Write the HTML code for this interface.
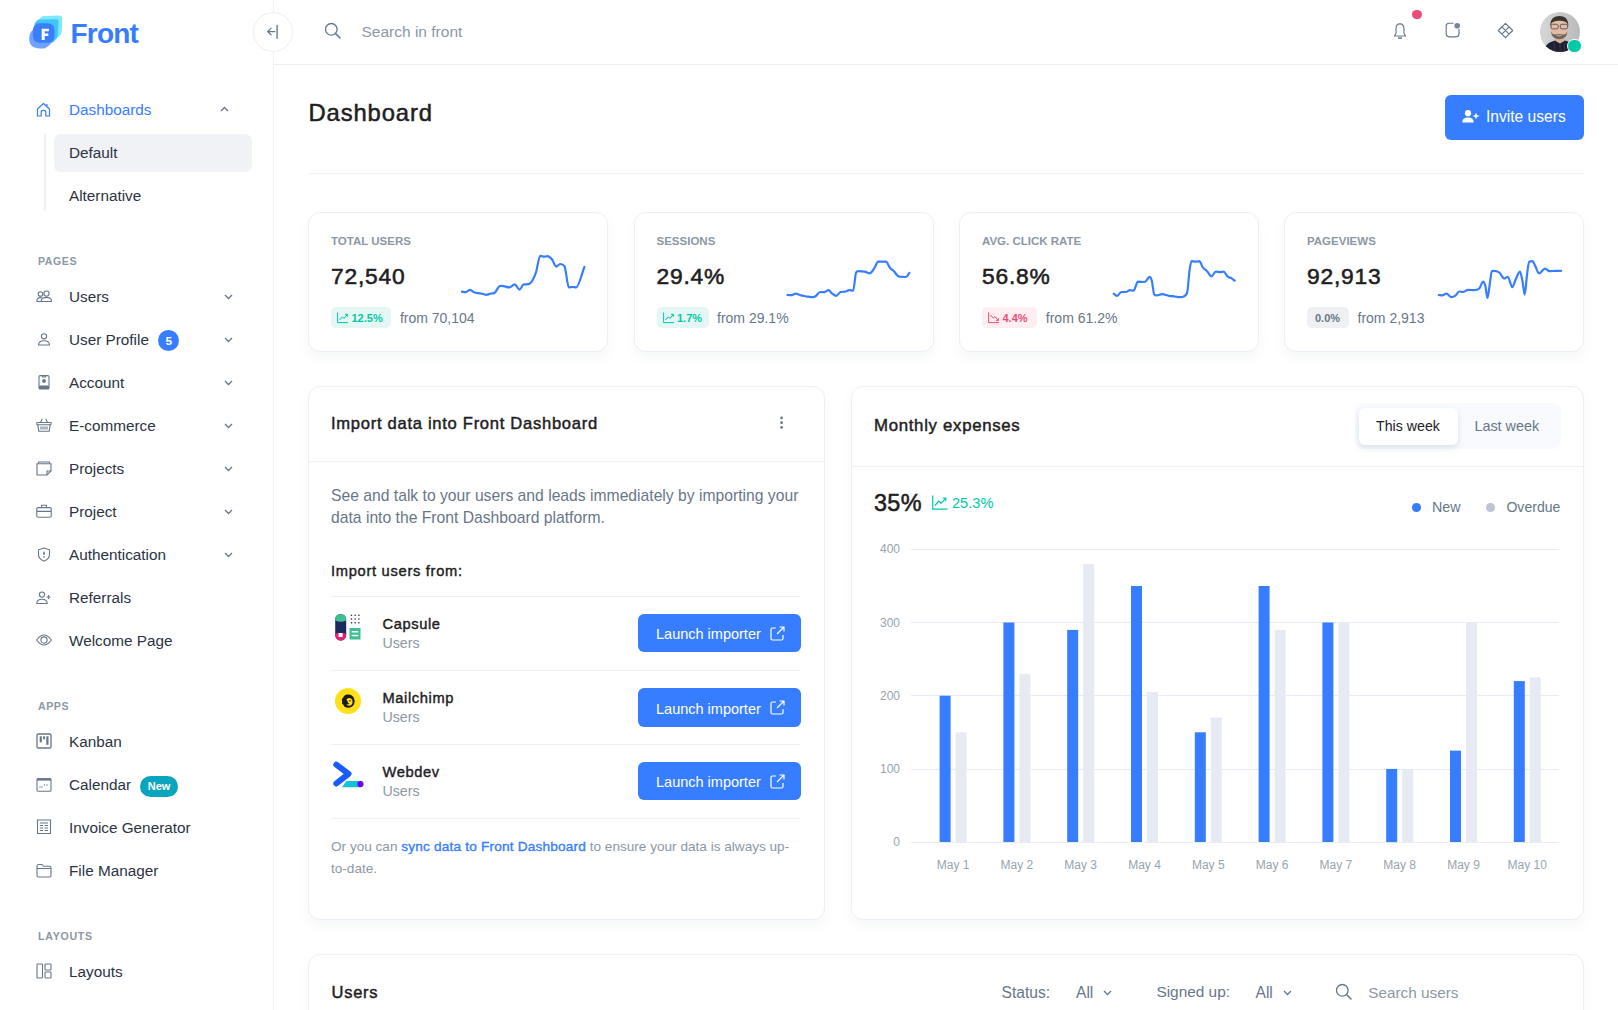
<!DOCTYPE html>
<html><head><meta charset="utf-8">
<style>
*{box-sizing:border-box;margin:0;padding:0}
html,body{width:1618px;height:1010px;overflow:hidden;background:#fff;font-family:"Liberation Sans",sans-serif;color:#1e2022}
.a{position:absolute}
.t{position:absolute;white-space:nowrap;line-height:1}
.nav{font-size:15.3px;color:#2c3344}
.ic{position:absolute;overflow:visible}
.card{position:absolute;background:#fff;border:1px solid #edeff7;border-radius:12px;box-shadow:0 6px 12px rgba(140,152,164,.075)}
.lbl{font-size:10.6px;font-weight:bold;color:#8c98a4;letter-spacing:.55px}
.chev{position:absolute;width:9px;height:6px}
.btn{position:absolute;background:#377dff;border-radius:5px}
</style></head><body>

<!-- SIDEBAR -->
<div class="a" style="left:273px;top:0;width:1px;height:1010px;background:#eef0f6"></div>
<svg class="ic" style="left:28px;top:14px" width="36" height="36" viewBox="0 0 36 36">
  <path d="M9 8 L13 3.2 Q14 2 16 2 L31 1.6 Q34.2 1.6 34.2 5 L33.8 17.5 Q33.5 21.5 26.5 26.3 L12 26 Z" fill="#80e8fb"/>
  <path d="M6.5 10.5 Q8 5.5 12 5.5 L28 5.2 Q30.6 5.2 30.6 8.2 L29.8 20.7 Q29.5 24 25 28.5 L10 28 Z" fill="#3fc5ff"/>
  <path d="M1.2 24.5 Q1.2 15 10 14.5 L20 14.5 Q25.7 14.5 25.7 22 Q25.7 30 16.5 34.4 L12 34.4 Q1.2 34.4 1.2 24.5 Z" fill="#6fa3ff"/>
  <rect x="4.9" y="9.3" width="21.6" height="19.5" rx="6.5" fill="#3a7eff"/>
  <path d="M13.7 14.7 L20.9 14.7 L20.9 17.3 L16.7 17.3 L16.7 19.4 L20.3 19.4 L20.3 21.9 L16.7 21.9 L16.7 26 L13.7 26 Z" fill="#fff"/>
</svg>
<div class="t" style="left:70.5px;top:19.9px;font-size:28px;font-weight:bold;color:#377dff;letter-spacing:-.8px">Front</div>

<!-- collapse button -->
<div class="a" style="left:253px;top:12px;width:40px;height:40px;border-radius:50%;border:1px solid #eceef5;background:#fff"></div>
<svg class="ic" style="left:266px;top:25px" width="14" height="14" viewBox="0 0 14 14">
  <path d="M1.8 6.6 L8.8 6.6 M5 3.4 L1.6 6.6 L5 9.8" stroke="#677788" stroke-width="1.3" fill="none" stroke-linecap="round" stroke-linejoin="round"/>
  <path d="M11.1 0.5 L11.1 13.2" stroke="#677788" stroke-width="1.4" fill="none" stroke-linecap="round"/>
</svg>

<!-- Dashboards nav -->
<svg class="ic" style="left:36px;top:102px" width="15" height="15" viewBox="0 0 15 15">
  <path d="M1.5 14 L1.5 7 L7.5 1.5 L13.5 7 L13.5 14 L9.8 14 L9.8 9.6 Q9.8 8.4 7.5 8.4 Q5.2 8.4 5.2 9.6 L5.2 14 Z" stroke="#377dff" stroke-width="1.2" fill="none" stroke-linejoin="round"/>
  <path d="M11 2 L11 4" stroke="#377dff" stroke-width="1.2"/>
</svg>
<div class="t nav" style="left:69px;top:102.2px;color:#377dff">Dashboards</div>
<svg class="chev" style="left:220px;top:106px" viewBox="0 0 9 6"><path d="M1 5 L4.5 1.5 L8 5" stroke="#677788" stroke-width="1.3" fill="none"/></svg>
<div class="a" style="left:43.5px;top:134px;width:2px;height:77px;background:#eef0f6"></div>
<div class="a" style="left:54px;top:134px;width:198px;height:38px;border-radius:7px;background:#f0f2f6"></div>
<div class="t nav" style="left:69px;top:145.3px">Default</div>
<div class="t nav" style="left:69px;top:187.9px">Alternative</div>

<div class="t lbl" style="left:38px;top:256px">PAGES</div>

<svg class="ic" style="left:35.5px;top:290.0px" width="16" height="12" viewBox="0 0 16 12"><circle cx="4.5" cy="4" r="2.3" stroke="#677788" stroke-width="1.1" fill="none"/><circle cx="10.5" cy="3.6" r="2.6" stroke="#677788" stroke-width="1.1" fill="none"/><path d="M0.8 11.5 Q0.8 7.6 4.3 7.6 Q5.6 7.6 6.3 8.2" stroke="#677788" stroke-width="1.1" fill="none"/><path d="M0.8 11.5 L6 11.5" stroke="#677788" stroke-width="1.1" fill="none"/><path d="M5.2 11.5 Q5.2 7.4 10.5 7.4 Q15.5 7.4 15.5 11.5 Z" stroke="#677788" stroke-width="1.1" fill="none"/></svg>
<div class="t nav" style="left:69px;top:289.3px">Users</div>
<svg class="chev" style="left:224px;top:294px" viewBox="0 0 9 6"><path d="M1 1 L4.5 4.5 L8 1" stroke="#677788" stroke-width="1.3" fill="none"/></svg>
<svg class="ic" style="left:35.5px;top:332.8px" width="16" height="12.5" viewBox="0 0 16 12.5"><circle cx="8" cy="3.3" r="2.6" stroke="#677788" stroke-width="1.1" fill="none"/><path d="M2.5 12 Q2.5 7.8 8 7.8 Q13.5 7.8 13.5 12 Z" stroke="#677788" stroke-width="1.1" fill="none"/></svg>
<div class="t nav" style="left:69px;top:332.3px">User Profile</div>
<svg class="chev" style="left:224px;top:337px" viewBox="0 0 9 6"><path d="M1 1 L4.5 4.5 L8 1" stroke="#677788" stroke-width="1.3" fill="none"/></svg>
<svg class="ic" style="left:35.5px;top:374.8px" width="16" height="14.5" viewBox="0 0 16 14.5"><rect x="3" y="0.6" width="10" height="13.4" rx="1.3" stroke="#677788" stroke-width="1.1" fill="none"/><circle cx="8" cy="6" r="1.9" fill="#677788"/><rect x="3" y="10.5" width="10" height="3.5" rx="1" fill="#677788"/><path d="M6.5 0.6 L6.5 2 L9.5 2 L9.5 0.6" stroke="#677788" stroke-width="1.1" fill="none"/></svg>
<div class="t nav" style="left:69px;top:375.3px">Account</div>
<svg class="chev" style="left:224px;top:380px" viewBox="0 0 9 6"><path d="M1 1 L4.5 4.5 L8 1" stroke="#677788" stroke-width="1.3" fill="none"/></svg>
<svg class="ic" style="left:35.5px;top:418.0px" width="16" height="14" viewBox="0 0 16 14"><path d="M4.5 4.5 L6.3 0.8 M11.5 4.5 L9.7 0.8" stroke="#677788" stroke-width="1.1" fill="none"/><rect x="0.8" y="4.5" width="14.4" height="2.2" rx="0.6" stroke="#677788" stroke-width="1.1" fill="none"/><path d="M1.8 6.7 L2.8 13.2 L13.2 13.2 L14.2 6.7" stroke="#677788" stroke-width="1.1" fill="none"/><path d="M5 8.5 L5 11.5 M7 8.5 L7 11.5 M9 8.5 L9 11.5 M11 8.5 L11 11.5" stroke="#677788" stroke-width="1.1" fill="none"/></svg>
<div class="t nav" style="left:69px;top:418.3px">E-commerce</div>
<svg class="chev" style="left:224px;top:423px" viewBox="0 0 9 6"><path d="M1 1 L4.5 4.5 L8 1" stroke="#677788" stroke-width="1.3" fill="none"/></svg>
<svg class="ic" style="left:35.5px;top:460.8px" width="16" height="14.5" viewBox="0 0 16 14.5"><path d="M2.5 2.5 L2.5 1 L13.5 1 L13.5 2.5" stroke="#677788" stroke-width="1.1" fill="none"/><path d="M1 2.8 L15 2.8 L15 10 L11 14 L1 14 Z" stroke="#677788" stroke-width="1.1" fill="none"/><path d="M11 14 L11 10 L15 10" stroke="#677788" stroke-width="1.1" fill="none"/></svg>
<div class="t nav" style="left:69px;top:461.3px">Projects</div>
<svg class="chev" style="left:224px;top:466px" viewBox="0 0 9 6"><path d="M1 1 L4.5 4.5 L8 1" stroke="#677788" stroke-width="1.3" fill="none"/></svg>
<svg class="ic" style="left:35.5px;top:504.2px" width="16" height="13.5" viewBox="0 0 16 13.5"><rect x="0.8" y="3.6" width="14.4" height="9.6" rx="1.2" stroke="#677788" stroke-width="1.1" fill="none"/><path d="M5.5 3.6 L5.5 1.3 L10.5 1.3 L10.5 3.6 M0.8 7.4 L15.2 7.4" stroke="#677788" stroke-width="1.1" fill="none"/></svg>
<div class="t nav" style="left:69px;top:504.3px">Project</div>
<svg class="chev" style="left:224px;top:509px" viewBox="0 0 9 6"><path d="M1 1 L4.5 4.5 L8 1" stroke="#677788" stroke-width="1.3" fill="none"/></svg>
<svg class="ic" style="left:35.5px;top:546.5px" width="16" height="15" viewBox="0 0 16 15"><path d="M8 1 L13.5 2.8 L13.5 7.5 Q13.5 11.8 8 14.2 Q2.5 11.8 2.5 7.5 L2.5 2.8 Z" stroke="#677788" stroke-width="1.1" fill="none"/><path d="M8 4.8 L8 7.8" stroke="#677788" stroke-width="1.6"/><circle cx="8" cy="9.8" r="0.9" fill="#677788"/></svg>
<div class="t nav" style="left:69px;top:547.3px">Authentication</div>
<svg class="chev" style="left:224px;top:552px" viewBox="0 0 9 6"><path d="M1 1 L4.5 4.5 L8 1" stroke="#677788" stroke-width="1.3" fill="none"/></svg>
<svg class="ic" style="left:35.5px;top:590.5px" width="16" height="13" viewBox="0 0 16 13"><circle cx="6" cy="3.6" r="2.6" stroke="#677788" stroke-width="1.1" fill="none"/><path d="M0.8 12.5 Q0.8 8.2 6 8.2 Q11.2 8.2 11.2 12.5 Z" stroke="#677788" stroke-width="1.1" fill="none"/><path d="M12.5 4 L12.5 8 M10.5 6 L14.5 6" stroke="#677788" stroke-width="1.1" fill="none"/></svg>
<div class="t nav" style="left:69px;top:590.3px">Referrals</div>
<svg class="ic" style="left:35.5px;top:633.0px" width="16" height="14" viewBox="0 0 16 14"><path d="M0.6 7 Q8 -3 15.4 7 Q8 17 0.6 7 Z" stroke="#677788" stroke-width="1.1" fill="none"/><circle cx="8" cy="7" r="3.1" stroke="#677788" stroke-width="1.1" fill="none"/></svg>
<div class="t nav" style="left:69px;top:633.3px">Welcome Page</div>
<svg class="ic" style="left:35.5px;top:733.0px" width="16" height="16" viewBox="0 0 16 16"><rect x="1" y="1" width="14" height="14" rx="1.3" stroke="#677788" stroke-width="1.3" fill="none"/><rect x="3.7" y="3.3" width="2.2" height="6" fill="#677788"/><rect x="7.1" y="3.3" width="2" height="3" fill="#677788"/><rect x="10.3" y="3.3" width="2.2" height="8.5" fill="#677788"/></svg>
<div class="t nav" style="left:69px;top:734.3px">Kanban</div>
<svg class="ic" style="left:35.5px;top:776.5px" width="16" height="15" viewBox="0 0 16 15"><rect x="1" y="1.8" width="14" height="12.4" rx="1" stroke="#677788" stroke-width="1.1" fill="none"/><rect x="1" y="1.2" width="14" height="2.4" fill="#677788"/><circle cx="4" cy="10" r="0.7" fill="#677788"/><circle cx="6" cy="10" r="0.7" fill="#677788"/><circle cx="8.5" cy="8" r="0.7" fill="#677788"/><circle cx="11" cy="8" r="0.7" fill="#677788"/></svg>
<div class="t nav" style="left:69px;top:777.3px">Calendar</div>
<svg class="ic" style="left:35.5px;top:819.2px" width="16" height="15.5" viewBox="0 0 16 15.5"><path d="M1.5 1 L14.5 1 L14.5 14.5 L1.5 14.5 Z" stroke="#677788" stroke-width="1.1" fill="none"/><path d="M3.8 4 L12 4 M3.8 6.5 L7 6.5 M3.8 9 L7 9 M3.8 11.5 L7 11.5 M8.5 6.5 L12 6.5 M8.5 9 L12 9 M8.5 11.5 L12 11.5" stroke="#677788" stroke-width="1.1" fill="none"/></svg>
<div class="t nav" style="left:69px;top:820.3px">Invoice Generator</div>
<svg class="ic" style="left:35.5px;top:862.5px" width="16" height="15" viewBox="0 0 16 15"><path d="M1 3.3 Q1 1.5 2.8 1.5 L6 1.5 L7.5 3.3 L13.3 3.3 Q15 3.3 15 5 L15 12.5 Q15 14 13.3 14 L2.7 14 Q1 14 1 12.5 Z M1 5.5 L15 5.5" stroke="#677788" stroke-width="1.1" fill="none"/></svg>
<div class="t nav" style="left:69px;top:863.3px">File Manager</div>
<svg class="ic" style="left:35.5px;top:963.0px" width="16" height="16" viewBox="0 0 16 16"><rect x="1" y="1" width="5.5" height="14" rx="0.8" stroke="#677788" stroke-width="1.1" fill="none"/><rect x="9" y="1" width="6" height="6" rx="0.8" stroke="#677788" stroke-width="1.1" fill="none"/><rect x="9" y="9" width="6" height="6" rx="0.8" stroke="#677788" stroke-width="1.1" fill="none"/></svg>
<div class="t nav" style="left:69px;top:964.3px">Layouts</div>
<div class="a" style="left:158px;top:330px;width:21px;height:21px;border-radius:50%;background:#377dff"></div>
<div class="t" style="left:158.3px;top:335.8px;width:21px;text-align:center;font-size:11.8px;font-weight:bold;color:#fff">5</div>
<div class="a" style="left:140px;top:775.5px;width:38px;height:21px;border-radius:10.5px;background:#09a5be"></div>
<div class="t" style="left:140px;top:780.5px;width:38px;text-align:center;font-size:11px;font-weight:bold;color:#fff">New</div>
<div class="t lbl" style="left:38px;top:700.8px">APPS</div>
<div class="t lbl" style="left:38px;top:930.9px;letter-spacing:.75px">LAYOUTS</div>


<!-- HEADER -->
<div class="a" style="left:274px;top:64px;width:1344px;height:1px;background:#eef0f6"></div>
<svg class="ic" style="left:324px;top:22px" width="18" height="18" viewBox="0 0 18 18">
  <circle cx="7.3" cy="7.3" r="5.8" stroke="#677788" stroke-width="1.3" fill="none"/>
  <path d="M11.5 11.5 L16 16" stroke="#677788" stroke-width="1.6" stroke-linecap="round"/>
</svg>
<div class="t" style="left:361.5px;top:23.5px;font-size:15.5px;color:#8c98a4">Search in front</div>

<div class="a" style="left:1412.3px;top:9.6px;width:9.4px;height:9.4px;border-radius:50%;background:#ed4c78"></div>
<svg class="ic" style="left:1393px;top:22.5px" width="14" height="16" viewBox="0 0 14 16">
  <path d="M7 0.8 Q11 0.8 11 6.2 L11 10.3 L12.6 13 L1.4 13 L3 10.3 L3 6.2 Q3 0.8 7 0.8 Z" stroke="#677788" stroke-width="1.15" fill="none" stroke-linejoin="round"/>
  <path d="M5.5 15 L8.5 15" stroke="#677788" stroke-width="1.3" stroke-linecap="round"/>
</svg>
<svg class="ic" style="left:1445px;top:22px" width="16" height="16" viewBox="0 0 16 16">
  <path d="M8.5 1.2 L4.2 1.2 Q1.2 1.2 1.2 4.2 L1.2 11.8 Q1.2 14.8 4.2 14.8 L11 14.8 Q14 14.8 14 11.8 L14 7" stroke="#677788" stroke-width="1.15" fill="none"/>
  <circle cx="12.2" cy="3.7" r="2.8" fill="#71869d"/>
</svg>
<svg class="ic" style="left:1496.5px;top:22px" width="17" height="17" viewBox="-0.5 -0.5 17 17">
  <path d="M8 0.8 L15.2 8 L8 15.2 L0.8 8 Z M4.4 4.4 L11.6 11.6 M11.6 4.4 L4.4 11.6" stroke="#677788" stroke-width="1.15" fill="none" stroke-linejoin="round"/>
</svg>
<svg class="ic" style="left:1540px;top:11.6px" width="40" height="40" viewBox="0 0 40 40">
  <defs><clipPath id="av"><circle cx="20" cy="20" r="20"/></clipPath>
  <linearGradient id="avg" x1="0" x2="1" y1="0" y2="0"><stop offset="0" stop-color="#d6d7d9"/><stop offset="1" stop-color="#b9babc"/></linearGradient></defs>
  <g clip-path="url(#av)">
    <rect width="40" height="40" fill="url(#avg)"/>
    <path d="M3 40 Q5 32 12 29.5 L17 28 L23 28 L28 29.5 Q35 32 37 40 Z" fill="#1c2233"/>
    <path d="M14 31 L15 40 M25 31 L24 40 M20 29 L20 40" stroke="#5a3040" stroke-width="0.8"/>
    <path d="M16 23 L24 23 L24.5 29 L20 31.5 L15.5 29 Z" fill="#d9b09a"/>
    <ellipse cx="19.2" cy="16.5" rx="8.8" ry="10.5" fill="#e2bca6"/>
    <path d="M10.2 15 Q9.8 4 19.5 4 Q28.8 4 28.3 15 L27.3 11.5 Q25 8.5 19.5 8.8 Q13.5 8.5 11.3 11.5 Z" fill="#3b3330"/>
    <path d="M11 19 Q11.5 27.3 19.2 27.3 Q27 27.3 27.4 19 Q26 23 23 22.5 Q19.2 21.5 15.5 22.5 Q12.5 23 11 19 Z" fill="#75655d"/>
    <path d="M16 23.2 Q19.2 25.3 22.5 23.2 Q19.2 23.8 16 23.2 Z" fill="#f1e3dc"/>
    <rect x="11" y="12.3" width="7.2" height="4.6" rx="1.6" fill="none" stroke="#4a4543" stroke-width="0.8"/>
    <rect x="20.3" y="12.3" width="7.2" height="4.6" rx="1.6" fill="none" stroke="#4a4543" stroke-width="0.8"/>
  </g>
</svg>
<div class="a" style="left:1567px;top:38.6px;width:14.8px;height:14.8px;border-radius:50%;background:#00c9a7;border:1.8px solid #fff"></div>

<!-- PAGE HEADER -->
<div class="t" style="left:308.5px;top:101.2px;font-size:23.8px;color:#1e2022;letter-spacing:0.88px;-webkit-text-stroke:0.5px #1e2022">Dashboard</div>
<div class="btn" style="left:1445px;top:95px;width:139px;height:44.5px;border-radius:6px"></div>
<svg class="ic" style="left:1462px;top:109.5px" width="17" height="13" viewBox="0 0 17 13">
  <circle cx="6" cy="3.2" r="3.1" fill="#fff"/>
  <path d="M0.3 12.6 Q0.3 7.6 6 7.6 Q11.7 7.6 11.7 12.6 Z" fill="#fff"/>
  <path d="M14 3.5 L14 8.5 M11.5 6 L16.5 6" stroke="#fff" stroke-width="1.5"/>
</svg>
<div class="t" style="left:1486px;top:108.8px;font-size:15.6px;color:#fff">Invite users</div>
<div class="a" style="left:308px;top:173px;width:1276px;height:1px;background:#eef0f6"></div>


<!-- STATS -->
<div class="card" style="left:308px;top:212px;width:300px;height:139.5px"></div>
<div class="t lbl" style="left:331px;top:235.5px;font-size:11.5px;letter-spacing:0;color:#8c98a4">TOTAL USERS</div>
<div class="t" style="left:331px;top:264.9px;font-size:22.8px;color:#1e2022;letter-spacing:.8px;-webkit-text-stroke:.55px #1e2022">72,540</div>
<div class="a" style="left:331px;top:307px;width:59.7px;height:21px;border-radius:5px;background:#e5f7f4"></div>
<svg class="ic" style="left:337.3px;top:312.4px" width="12" height="11" viewBox="0 0 12 11"><path d="M0.6 0.5 L0.6 10.6 L11 10.6 M2.5 8 L5.3 4.8 L7 6.5 L10.2 2.5 M8 2.3 L10.4 2.3 L10.4 4.7" stroke="#00c9a7" stroke-width="1" fill="none"/></svg>
<div class="t" style="left:351.5px;top:313.3px;font-size:11px;font-weight:bold;color:#00c9a7">12.5%</div>
<div class="t" style="left:399.9px;top:310.7px;font-size:14px;color:#677788">from 70,104</div>
<div class="card" style="left:633.5px;top:212px;width:300px;height:139.5px"></div>
<div class="t lbl" style="left:656.5px;top:235.5px;font-size:11.5px;letter-spacing:0;color:#8c98a4">SESSIONS</div>
<div class="t" style="left:656.5px;top:264.9px;font-size:22.8px;color:#1e2022;letter-spacing:.8px;-webkit-text-stroke:.55px #1e2022">29.4%</div>
<div class="a" style="left:656.5px;top:307px;width:52px;height:21px;border-radius:5px;background:#e5f7f4"></div>
<svg class="ic" style="left:662.8px;top:312.4px" width="12" height="11" viewBox="0 0 12 11"><path d="M0.6 0.5 L0.6 10.6 L11 10.6 M2.5 8 L5.3 4.8 L7 6.5 L10.2 2.5 M8 2.3 L10.4 2.3 L10.4 4.7" stroke="#00c9a7" stroke-width="1" fill="none"/></svg>
<div class="t" style="left:677.0px;top:313.3px;font-size:11px;font-weight:bold;color:#00c9a7">1.7%</div>
<div class="t" style="left:717px;top:310.7px;font-size:14px;color:#677788">from 29.1%</div>
<div class="card" style="left:959px;top:212px;width:300px;height:139.5px"></div>
<div class="t lbl" style="left:982px;top:235.5px;font-size:11.5px;letter-spacing:0;color:#8c98a4">AVG. CLICK RATE</div>
<div class="t" style="left:982px;top:264.9px;font-size:22.8px;color:#1e2022;letter-spacing:.8px;-webkit-text-stroke:.55px #1e2022">56.8%</div>
<div class="a" style="left:982px;top:307px;width:54.5px;height:21px;border-radius:5px;background:#fdeef2"></div>
<svg class="ic" style="left:988.3px;top:312.4px" width="12" height="11" viewBox="0 0 12 11"><path d="M0.6 0.5 L0.6 10.6 L11 10.6 M2.5 3 L5.3 6.2 L7 4.5 L10.2 8.5 M8 8.7 L10.4 8.7 L10.4 6.3" stroke="#ed4c78" stroke-width="1" fill="none"/></svg>
<div class="t" style="left:1002.5px;top:313.3px;font-size:11px;font-weight:bold;color:#ed4c78">4.4%</div>
<div class="t" style="left:1045.8px;top:310.7px;font-size:14px;color:#677788">from 61.2%</div>
<div class="card" style="left:1284px;top:212px;width:300px;height:139.5px"></div>
<div class="t lbl" style="left:1307px;top:235.5px;font-size:11.5px;letter-spacing:0;color:#8c98a4">PAGEVIEWS</div>
<div class="t" style="left:1307px;top:264.9px;font-size:22.8px;color:#1e2022;letter-spacing:.8px;-webkit-text-stroke:.55px #1e2022">92,913</div>
<div class="a" style="left:1307px;top:307px;width:41.6px;height:21px;border-radius:5px;background:#eef0f3"></div>
<div class="t" style="left:1315.0px;top:313.3px;font-size:11px;font-weight:bold;color:#677788">0.0%</div>
<div class="t" style="left:1357.5px;top:310.7px;font-size:14px;color:#677788">from 2,913</div>
<svg class="a" style="left:0;top:0" width="1618" height="400" viewBox="0 0 1618 400"><path d="M461.9 291.7 C463.2 291.9 464.5 292.2 465.8 292.2 C467.2 292.2 468.7 289.8 470.1 289.8 C471.4 289.8 472.7 291.7 474.0 292.2 C476.3 293.1 478.7 293.0 481.0 293.5 C482.7 293.9 484.4 294.8 486.1 294.8 C487.8 294.8 489.6 293.7 491.3 293.5 C492.3 293.4 493.4 293.5 494.4 293.0 C496.0 292.3 497.5 287.8 499.1 286.5 C500.0 285.8 500.8 285.8 501.7 285.8 C504.3 285.8 506.9 287.4 509.5 287.4 C511.2 287.4 513.0 284.4 514.7 284.4 C516.3 284.4 517.9 289.6 519.5 289.6 C520.9 289.6 522.4 284.4 523.8 284.4 C524.8 284.4 525.8 284.4 526.8 284.4 C528.4 284.4 530.0 283.9 531.6 281.8 C533.0 279.9 534.5 277.0 535.9 272.7 C537.3 268.4 538.8 255.8 540.2 255.8 C541.5 255.8 542.8 256.7 544.1 256.7 C545.1 256.7 546.2 256.2 547.2 256.2 C548.8 256.2 550.3 257.5 551.9 259.3 C553.3 261.0 554.8 266.6 556.2 266.6 C557.5 266.6 558.8 264.0 560.1 264.0 C561.6 264.0 563.0 264.0 564.5 266.2 C565.9 268.3 567.4 287.4 568.8 287.4 C570.1 287.4 571.4 287.0 572.7 287.0 C573.8 287.0 575.0 287.4 576.1 287.4 C578.9 287.4 581.6 273.8 584.4 267.0" stroke="#377dff" stroke-width="2.2" fill="none" stroke-linejoin="round" stroke-linecap="round"/><path d="M787.4 295.0 C788.7 295.1 789.9 295.2 791.2 295.2 C792.7 295.2 794.1 293.7 795.6 293.7 C797.3 293.7 799.1 295.0 800.8 295.4 C802.5 295.8 804.3 296.0 806.0 296.3 C808.3 296.6 810.6 297.2 812.9 297.2 C813.8 297.2 814.6 296.8 815.5 296.3 C817.1 295.3 818.6 292.0 820.2 292.0 C821.5 292.0 822.8 292.2 824.1 292.2 C825.6 292.2 827.0 290.2 828.5 290.2 C829.6 290.2 830.8 292.4 831.9 293.3 C833.3 294.4 834.8 295.9 836.2 295.9 C837.7 295.9 839.1 292.3 840.6 292.0 C842.0 291.7 843.5 291.8 844.9 291.7 C846.3 291.6 847.8 290.2 849.2 290.2 C850.5 290.2 851.8 290.7 853.1 290.7 C854.1 290.7 855.1 274.3 856.1 272.5 C856.8 271.2 857.6 271.2 858.3 271.2 C860.5 271.2 862.6 271.2 864.8 271.6 C866.4 271.9 868.0 273.4 869.6 273.4 C871.2 273.4 872.7 270.4 874.3 268.2 C875.6 266.4 876.9 261.7 878.2 261.7 C879.5 261.7 880.8 261.7 882.1 261.7 C883.4 261.7 884.7 261.7 886.0 261.7 C887.3 261.7 888.6 266.1 889.9 267.7 C891.3 269.5 892.8 270.1 894.2 271.6 C895.6 273.1 897.1 275.9 898.5 276.4 C899.7 276.8 900.8 276.7 902.0 276.8 C903.3 276.9 904.6 277.0 905.9 277.0 C907.1 277.0 908.2 274.3 909.4 272.9" stroke="#377dff" stroke-width="2.2" fill="none" stroke-linejoin="round" stroke-linecap="round"/><path d="M1113.7 293.7 C1114.8 294.4 1116.0 295.9 1117.1 295.9 C1118.5 295.9 1120.0 292.0 1121.4 292.0 C1122.9 292.0 1124.3 292.0 1125.8 292.0 C1127.2 292.0 1128.7 290.2 1130.1 290.2 C1131.3 290.2 1132.4 290.7 1133.6 290.7 C1135.0 290.7 1136.5 281.6 1137.9 281.6 C1140.2 281.6 1142.5 282.0 1144.8 282.0 C1146.4 282.0 1148.0 276.8 1149.6 276.8 C1150.3 276.8 1151.0 277.8 1151.7 280.3 C1152.6 283.4 1153.4 293.8 1154.3 294.6 C1155.2 295.4 1156.0 295.4 1156.9 295.4 C1158.6 295.4 1160.4 294.1 1162.1 294.1 C1164.4 294.1 1166.7 295.5 1169.0 295.9 C1170.7 296.2 1172.5 296.1 1174.2 296.3 C1175.9 296.5 1177.7 297.2 1179.4 297.2 C1180.6 297.2 1181.7 297.0 1182.9 296.7 C1184.3 296.3 1185.8 296.7 1187.2 292.4 C1187.9 290.2 1188.7 276.9 1189.4 271.6 C1190.1 266.6 1190.8 261.2 1191.5 261.2 C1193.0 261.2 1194.4 261.7 1195.9 261.7 C1197.0 261.7 1198.2 261.2 1199.3 261.2 C1200.5 261.2 1201.6 265.8 1202.8 267.3 C1204.2 269.2 1205.7 269.7 1207.1 271.2 C1208.5 272.7 1210.0 276.4 1211.4 276.4 C1212.9 276.4 1214.3 271.6 1215.8 271.6 C1217.2 271.6 1218.7 272.1 1220.1 272.1 C1221.2 272.1 1222.4 271.6 1223.5 271.6 C1225.0 271.6 1226.4 275.7 1227.9 276.8 C1229.0 277.7 1230.2 277.5 1231.3 278.1 C1232.5 278.8 1233.6 279.8 1234.8 280.7" stroke="#377dff" stroke-width="2.2" fill="none" stroke-linejoin="round" stroke-linecap="round"/><path d="M1438.7 295.0 C1439.8 295.1 1441.0 295.4 1442.1 295.4 C1443.5 295.4 1445.0 293.7 1446.4 293.7 C1448.1 293.7 1449.9 297.2 1451.6 297.2 C1452.8 297.2 1453.9 296.7 1455.1 295.9 C1456.5 294.9 1458.0 291.5 1459.4 291.5 C1460.6 291.5 1461.7 292.0 1462.9 292.0 C1464.6 292.0 1466.4 289.8 1468.1 289.8 C1470.1 289.8 1472.1 290.2 1474.1 290.2 C1475.8 290.2 1477.6 290.2 1479.3 288.5 C1480.6 287.2 1481.9 281.6 1483.2 281.6 C1483.9 281.6 1484.7 283.5 1485.4 286.3 C1486.1 289.0 1486.8 298.0 1487.5 298.0 C1488.2 298.0 1489.0 289.1 1489.7 284.6 C1490.4 280.1 1491.2 271.6 1491.9 271.2 C1492.6 270.8 1493.3 270.8 1494.0 270.8 C1495.7 270.8 1497.5 271.2 1499.2 272.5 C1500.9 273.8 1502.7 278.6 1504.4 278.6 C1505.6 278.6 1506.7 276.8 1507.9 276.8 C1509.3 276.8 1510.8 287.2 1512.2 287.2 C1513.4 287.2 1514.5 281.8 1515.7 279.4 C1517.1 276.5 1518.6 271.6 1520.0 271.6 C1520.9 271.6 1521.7 277.7 1522.6 282.0 C1523.3 285.5 1524.0 294.6 1524.7 294.6 C1525.4 294.6 1526.2 281.5 1526.9 276.0 C1527.6 270.5 1528.4 262.0 1529.1 261.7 C1530.2 261.2 1531.4 261.2 1532.5 261.2 C1533.4 261.2 1534.2 264.0 1535.1 265.6 C1536.4 268.0 1537.7 273.4 1539.0 273.4 C1541.0 273.4 1543.1 268.6 1545.1 268.6 C1546.5 268.6 1548.0 271.2 1549.4 271.2 C1551.4 271.2 1553.5 270.8 1555.5 270.8 C1557.4 270.8 1559.2 270.8 1561.1 270.8" stroke="#377dff" stroke-width="2.2" fill="none" stroke-linejoin="round" stroke-linecap="round"/></svg>


<!-- IMPORT CARD -->
<div class="card" style="left:308px;top:386px;width:516.5px;height:533.5px"></div>
<div class="t" style="left:331px;top:415.9px;font-size:16.6px;color:#1e2022;letter-spacing:0.7px;-webkit-text-stroke:0.45px #1e2022">Import data into Front Dashboard</div>
<svg class="ic" style="left:779px;top:415px" width="6" height="16" viewBox="0 0 6 16"><circle cx="2.6" cy="2.9" r="1.35" fill="#677788"/><circle cx="2.6" cy="7.65" r="1.35" fill="#677788"/><circle cx="2.6" cy="12.4" r="1.35" fill="#677788"/></svg>
<div class="a" style="left:309px;top:461px;width:514.5px;height:1px;background:#eef0f6"></div>
<div class="t" style="left:331px;top:487.6px;font-size:15.7px;color:#677788">See and talk to your users and leads immediately by importing your</div>
<div class="t" style="left:331px;top:509.6px;font-size:15.7px;color:#677788">data into the Front Dashboard platform.</div>
<div class="t" style="left:331px;top:564.1px;font-size:14.7px;color:#1e2022;letter-spacing:0.7px;-webkit-text-stroke:0.4px #1e2022">Import users from:</div>
<div class="a" style="left:331px;top:595.8px;width:470px;height:1px;background:#eef0f6"></div>
<div class="a" style="left:331px;top:670.0px;width:470px;height:1px;background:#eef0f6"></div>
<div class="a" style="left:331px;top:743.8px;width:470px;height:1px;background:#eef0f6"></div>
<div class="a" style="left:331px;top:817.9px;width:470px;height:1px;background:#eef0f6"></div>
<div class="t" style="left:382.5px;top:616.9px;font-size:14.7px;color:#1e2022;letter-spacing:0.6px;-webkit-text-stroke:0.4px #1e2022">Capsule</div>
<div class="t" style="left:382.5px;top:635.8px;font-size:14.2px;color:#8c98a4">Users</div>
<div class="btn" style="left:638px;top:614.2px;width:163px;height:38.3px;border-radius:6px"></div>
<div class="t" style="left:656px;top:627.4px;font-size:14.5px;color:#fff">Launch importer</div>
<svg class="ic" style="left:769.5px;top:626.2px" width="15" height="15" viewBox="0 0 15 15"><path d="M6 2 L2.5 2 Q1 2 1 3.5 L1 12.5 Q1 14 2.5 14 L11.5 14 Q13 14 13 12.5 L13 9" stroke="#fff" stroke-width="1.2" fill="none"/><path d="M7 8 L14 1 M9.5 1 L14 1 L14 5.5" stroke="#fff" stroke-width="1.2" fill="none"/></svg>
<div class="t" style="left:382.5px;top:690.9px;font-size:14.7px;color:#1e2022;letter-spacing:0.6px;-webkit-text-stroke:0.4px #1e2022">Mailchimp</div>
<div class="t" style="left:382.5px;top:709.8px;font-size:14.2px;color:#8c98a4">Users</div>
<div class="btn" style="left:638px;top:688.3000000000001px;width:163px;height:38.3px;border-radius:6px"></div>
<div class="t" style="left:656px;top:701.5px;font-size:14.5px;color:#fff">Launch importer</div>
<svg class="ic" style="left:769.5px;top:700.3000000000001px" width="15" height="15" viewBox="0 0 15 15"><path d="M6 2 L2.5 2 Q1 2 1 3.5 L1 12.5 Q1 14 2.5 14 L11.5 14 Q13 14 13 12.5 L13 9" stroke="#fff" stroke-width="1.2" fill="none"/><path d="M7 8 L14 1 M9.5 1 L14 1 L14 5.5" stroke="#fff" stroke-width="1.2" fill="none"/></svg>
<div class="t" style="left:382.5px;top:764.9px;font-size:14.7px;color:#1e2022;letter-spacing:0.6px;-webkit-text-stroke:0.4px #1e2022">Webdev</div>
<div class="t" style="left:382.5px;top:783.8px;font-size:14.2px;color:#8c98a4">Users</div>
<div class="btn" style="left:638px;top:761.7px;width:163px;height:38.3px;border-radius:6px"></div>
<div class="t" style="left:656px;top:774.9px;font-size:14.5px;color:#fff">Launch importer</div>
<svg class="ic" style="left:769.5px;top:773.7px" width="15" height="15" viewBox="0 0 15 15"><path d="M6 2 L2.5 2 Q1 2 1 3.5 L1 12.5 Q1 14 2.5 14 L11.5 14 Q13 14 13 12.5 L13 9" stroke="#fff" stroke-width="1.2" fill="none"/><path d="M7 8 L14 1 M9.5 1 L14 1 L14 5.5" stroke="#fff" stroke-width="1.2" fill="none"/></svg>
<svg class="ic" style="left:334px;top:613px" width="28" height="28" viewBox="0 0 28 28">
<rect x="1.2" y="1" width="11" height="26.5" rx="5.5" fill="#1b2a5e"/>
<path d="M1.2 6.5 A5.5 5.5 0 0 1 12.2 6.5 L12.2 7.6 Q6.7 10 1.2 7.6 Z" fill="#3dbf92"/>
<path d="M1.2 20.8 Q6.7 18.5 12.2 20.8 L12.2 22 A5.5 5.5 0 0 1 1.2 22 Z" fill="#e8207b"/>
<rect x="4.6" y="20" width="4" height="4" fill="#fff"/>
<g fill="#1b2a5e"><circle cx="17.5" cy="2.3" r="0.8"/><circle cx="21.2" cy="2.3" r="0.8"/><circle cx="24.9" cy="2.3" r="0.8"/><circle cx="17.5" cy="6" r="0.8"/><circle cx="21.2" cy="6" r="0.8"/><circle cx="24.9" cy="6" r="0.8"/><circle cx="17.5" cy="9.7" r="0.8"/><circle cx="21.2" cy="9.7" r="0.8"/><circle cx="24.9" cy="9.7" r="0.8"/></g>
<rect x="15.5" y="15" width="11" height="11.5" fill="#3dbf92"/>
<rect x="17.7" y="18" width="6.6" height="1.5" fill="#fff"/><rect x="17.7" y="21.8" width="6.6" height="1.5" fill="#fff"/>
</svg>
<svg class="ic" style="left:335px;top:687.5px" width="26" height="26" viewBox="0 0 26 26">
<circle cx="13" cy="13" r="13" fill="#ffe01b"/>
<path d="M7.3 13.8 Q6.2 10.5 8.3 9.5 Q9 6.8 12.5 6.5 Q17.8 6 19.2 11 Q20.3 13.5 19.3 15.3 Q18.5 19.2 13.5 19.8 Q9.3 20 8.3 16.5 Q6.3 16.3 7.3 13.8 Z" fill="#1a1a1a"/>
<path d="M11.2 12 Q12.5 9.3 15.6 10.2 Q17.8 11.2 17.6 14 Q17.4 17.5 13.8 17.8 Q11.8 17.8 11.4 16 Q13 16.8 14.6 15.9 Q12.6 15.5 12.6 13.5 Q12.6 12.2 11.2 12 Z" fill="#ffe01b"/>
<circle cx="15" cy="12.8" r="0.8" fill="#1a1a1a"/>
</svg>
<svg class="ic" style="left:332px;top:761px" width="32" height="28" viewBox="0 0 32 28">
<path d="M4.3 3.7 L16.5 12.8 L4.3 22.5" stroke="#1a5cff" stroke-width="6" fill="none" stroke-linecap="round" stroke-linejoin="round"/>
<path d="M10 26.2 L14.5 20 L28.5 20 L28.5 26.2 Z" fill="#12c2d6"/>
<circle cx="28.5" cy="23.1" r="3.1" fill="#6a00f4"/>
</svg>
<div class="t" style="left:331px;top:840.4px;font-size:13.6px;color:#8c98a4">Or you can <span style="color:#377dff;letter-spacing:.2px;-webkit-text-stroke:.35px #377dff">sync data to Front Dashboard</span> to ensure your data is always up-</div>
<div class="t" style="left:331px;top:862.4px;font-size:13.6px;color:#8c98a4">to-date.</div>


<!-- MONTHLY + USERS -->
<div class="card" style="left:850.5px;top:386px;width:733.5px;height:533.5px"></div>
<div class="t" style="left:874px;top:418.0px;font-size:16.8px;color:#1e2022;letter-spacing:0.7px;-webkit-text-stroke:0.45px #1e2022">Monthly expenses</div>
<div class="a" style="left:1355px;top:403.2px;width:206px;height:45.5px;border-radius:8px;background:#f8fafd"></div>
<div class="a" style="left:1358.5px;top:407.6px;width:99.4px;height:37px;border-radius:6px;background:#fff;box-shadow:0 3px 6px rgba(140,152,164,.25)"></div>
<div class="t" style="left:1376px;top:419.0px;font-size:14.2px;color:#1e2022">This week</div>
<div class="t" style="left:1474.4px;top:418.8px;font-size:14.4px;color:#677788">Last week</div>
<div class="a" style="left:851.5px;top:466px;width:731.5px;height:1px;background:#eef0f6"></div>
<div class="t" style="left:874px;top:492px;font-size:23.4px;color:#1e2022;letter-spacing:0.35px;-webkit-text-stroke:0.55px #1e2022">35%</div>
<svg class="ic" style="left:932px;top:495px" width="16" height="15" viewBox="0 0 16 15"><path d="M0.7 0.5 L0.7 14.2 L15.5 14.2 M3 10.5 L6.8 6 L9 8.3 L13.5 3.3 M10.5 3 L13.8 3 L13.8 6.3" stroke="#00c9a7" stroke-width="1.2" fill="none"/></svg>
<div class="t" style="left:952px;top:495.6px;font-size:14.6px;color:#00c9a7">25.3%</div>
<div class="a" style="left:1412px;top:503.3px;width:8.8px;height:8.8px;border-radius:50%;background:#377dff"></div>
<div class="t" style="left:1432px;top:500.1px;font-size:14.3px;color:#677788">New</div>
<div class="a" style="left:1486px;top:503.3px;width:8.8px;height:8.8px;border-radius:50%;background:#bdc5d1"></div>
<div class="t" style="left:1506.4px;top:500.3px;font-size:14.1px;color:#677788">Overdue</div>
<div class="a" style="left:911px;top:548.9px;width:648px;height:1px;background:#e9ebf4"></div>
<div class="t" style="left:840px;width:60px;text-align:right;top:543.4px;font-size:12px;color:#97a4af">400</div>
<div class="a" style="left:911px;top:622.0px;width:648px;height:1px;background:#e9ebf4"></div>
<div class="t" style="left:840px;width:60px;text-align:right;top:616.5px;font-size:12px;color:#97a4af">300</div>
<div class="a" style="left:911px;top:695.4px;width:648px;height:1px;background:#e9ebf4"></div>
<div class="t" style="left:840px;width:60px;text-align:right;top:689.9px;font-size:12px;color:#97a4af">200</div>
<div class="a" style="left:911px;top:768.5px;width:648px;height:1px;background:#e9ebf4"></div>
<div class="t" style="left:840px;width:60px;text-align:right;top:763.0px;font-size:12px;color:#97a4af">100</div>
<div class="a" style="left:911px;top:841.5px;width:648px;height:1px;background:#e9ebf4"></div>
<div class="t" style="left:840px;width:60px;text-align:right;top:836.0px;font-size:12px;color:#97a4af">0</div>
<div class="t" style="left:913.1px;width:80px;text-align:center;top:859.3px;font-size:12px;color:#97a4af">May 1</div>
<div class="t" style="left:976.9px;width:80px;text-align:center;top:859.3px;font-size:12px;color:#97a4af">May 2</div>
<div class="t" style="left:1040.7px;width:80px;text-align:center;top:859.3px;font-size:12px;color:#97a4af">May 3</div>
<div class="t" style="left:1104.5px;width:80px;text-align:center;top:859.3px;font-size:12px;color:#97a4af">May 4</div>
<div class="t" style="left:1168.3px;width:80px;text-align:center;top:859.3px;font-size:12px;color:#97a4af">May 5</div>
<div class="t" style="left:1232.1px;width:80px;text-align:center;top:859.3px;font-size:12px;color:#97a4af">May 6</div>
<div class="t" style="left:1295.9px;width:80px;text-align:center;top:859.3px;font-size:12px;color:#97a4af">May 7</div>
<div class="t" style="left:1359.7px;width:80px;text-align:center;top:859.3px;font-size:12px;color:#97a4af">May 8</div>
<div class="t" style="left:1423.5px;width:80px;text-align:center;top:859.3px;font-size:12px;color:#97a4af">May 9</div>
<div class="t" style="left:1487.3px;width:80px;text-align:center;top:859.3px;font-size:12px;color:#97a4af">May 10</div>
<svg class="a" style="left:0;top:0" width="1618" height="1010" viewBox="0 0 1618 1010"><rect x="939.6" y="695.7" width="11" height="146.3" fill="#377dff"/><rect x="955.6" y="732.3" width="11" height="109.7" fill="#e7eaf3"/><rect x="1003.4" y="622.5" width="11" height="219.5" fill="#377dff"/><rect x="1019.4" y="673.8" width="11" height="168.2" fill="#e7eaf3"/><rect x="1067.2" y="629.9" width="11" height="212.1" fill="#377dff"/><rect x="1083.2" y="564.0" width="11" height="278.0" fill="#e7eaf3"/><rect x="1131.0" y="586.0" width="11" height="256.0" fill="#377dff"/><rect x="1147.0" y="692.0" width="11" height="150.0" fill="#e7eaf3"/><rect x="1194.8" y="732.3" width="11" height="109.7" fill="#377dff"/><rect x="1210.8" y="717.6" width="11" height="124.4" fill="#e7eaf3"/><rect x="1258.6" y="586.0" width="11" height="256.0" fill="#377dff"/><rect x="1274.6" y="629.9" width="11" height="212.1" fill="#e7eaf3"/><rect x="1322.4" y="622.5" width="11" height="219.5" fill="#377dff"/><rect x="1338.4" y="622.5" width="11" height="219.5" fill="#e7eaf3"/><rect x="1386.2" y="768.9" width="11" height="73.2" fill="#377dff"/><rect x="1402.2" y="768.9" width="11" height="73.2" fill="#e7eaf3"/><rect x="1450.0" y="750.6" width="11" height="91.4" fill="#377dff"/><rect x="1466.0" y="622.5" width="11" height="219.5" fill="#e7eaf3"/><rect x="1513.8" y="681.1" width="11" height="160.9" fill="#377dff"/><rect x="1529.8" y="677.4" width="11" height="164.6" fill="#e7eaf3"/></svg>
<div class="card" style="left:308px;top:953.5px;width:1276px;height:120px"></div>
<div class="t" style="left:331.5px;top:983.8px;font-size:16.5px;color:#1e2022;letter-spacing:0.75px;-webkit-text-stroke:0.45px #1e2022">Users</div>
<div class="t" style="left:1001.6px;top:985.4px;font-size:15.6px;color:#677788">Status:</div>
<div class="t" style="left:1076px;top:985.4px;font-size:15.6px;color:#677788">All</div>
<svg class="chev" style="left:1103px;top:990px" viewBox="0 0 9 6"><path d="M1 1 L4.5 4.5 L8 1" stroke="#677788" stroke-width="1.3" fill="none"/></svg>
<div class="t" style="left:1156.4px;top:984.4px;font-size:15.4px;color:#677788">Signed up:</div>
<div class="t" style="left:1255.5px;top:985.4px;font-size:15.6px;color:#677788">All</div>
<svg class="chev" style="left:1282.5px;top:990px" viewBox="0 0 9 6"><path d="M1 1 L4.5 4.5 L8 1" stroke="#677788" stroke-width="1.3" fill="none"/></svg>
<svg class="ic" style="left:1335px;top:982.5px" width="18" height="18" viewBox="0 0 18 18"><circle cx="7.3" cy="7.3" r="5.8" stroke="#677788" stroke-width="1.3" fill="none"/><path d="M11.5 11.5 L16 16" stroke="#677788" stroke-width="1.6" stroke-linecap="round"/></svg>
<div class="t" style="left:1368.3px;top:985.0px;font-size:15.3px;color:#8c98a4">Search users</div>

</body></html>
